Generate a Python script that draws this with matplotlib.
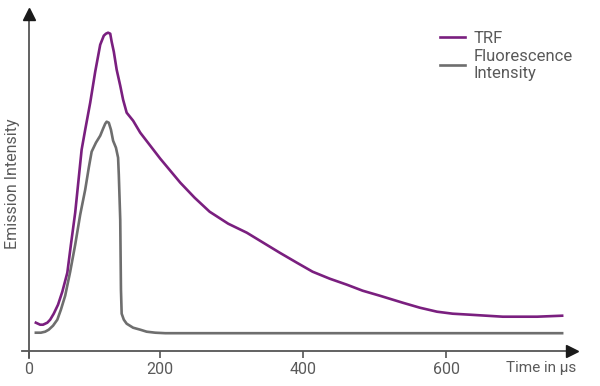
import matplotlib
matplotlib.use("Agg")
import matplotlib.pyplot as plt

# values (time in us, intensity in arbitrary units)
trf_t = [26, 32, 36, 42, 46, 51, 57, 63, 70, 75, 81, 86, 90, 95, 102, 109,
         116, 121, 124, 127, 130, 132, 135, 139, 144, 148, 153, 162, 172,
         186, 200, 214, 228, 248, 269, 295, 321, 344, 367, 391, 413, 437,
         461, 483, 507, 539, 563, 587, 609, 633, 679, 727, 762]
trf_y = [28, 26, 26, 28, 31, 37, 46, 59, 78, 106, 138, 173, 201, 221, 248, 279,
         306, 315, 317, 318, 317, 309, 299, 281, 265, 251, 238, 230, 218,
         205, 192, 180, 168, 153, 139, 127, 118, 108, 98, 88, 79, 72,
         66, 60, 55, 48, 43, 39, 37, 36, 34, 34, 35]

fl_t = [26, 33, 39, 44, 50, 56, 61, 67, 74, 81, 88, 95, 100, 104, 110, 116,
        120, 123, 125, 128, 131, 134, 138, 141, 142, 144, 145, 146, 149, 153,
        162, 172, 181, 193, 207, 762]
fl_y = [18, 18, 19, 21, 25, 31, 41, 55, 79, 106, 136, 161, 183, 199, 208, 215,
        222, 227, 229, 228, 221, 210, 203, 193, 176, 131, 61, 37, 31, 27,
        23, 21, 19, 18, 17.5, 17.5]

tick_pos = [16.4, 200, 400, 600]
tick_lab = ["0", "200", "400", "600"]

purple = "#7a1f7f"
grey = "#6e6e6e"
axis_col = "#555555"
text_col = "#5a5a5a"

plt.rcParams['font.family'] = ['Roboto', 'DejaVu Sans']

fig = plt.figure(figsize=(6, 3.86), dpi=100)
ax = fig.add_axes([29 / 600, 35.3 / 386, 547 / 600, 341.7 / 386])

ax.plot(trf_t, trf_y, color=purple, lw=1.9, label="TRF", solid_joinstyle='round')
ax.plot(fl_t, fl_y, color=grey, lw=1.9, label="Fluorescence\nIntensity", solid_joinstyle='round')

ax.set_xlim(16.4, 781.4)
ax.set_ylim(0, 341.7)

for s in ax.spines.values():
    s.set_visible(False)

# axis lines with arrow heads
ax.plot([-0.013, 0.99], [0, 0], color=axis_col, lw=1.3, transform=ax.transAxes, clip_on=False)
ax.plot([0.993], [0], marker='>', ms=8, color='#1a1a1a', transform=ax.transAxes, clip_on=False)
ax.plot([0, 0], [-0.02, 0.975], color=axis_col, lw=1.3, transform=ax.transAxes, clip_on=False)
ax.plot([0], [0.985], marker='^', ms=8, color='#1a1a1a', transform=ax.transAxes, clip_on=False)

ax.set_xticks(tick_pos)
ax.set_xticklabels(tick_lab)
ax.tick_params(axis='x', direction='out', length=5, width=1.2, color=axis_col,
               labelcolor=text_col, labelsize=11.5, pad=3)
ax.set_yticks([])

ax.text(1.0, -0.051, "Time in µs", transform=ax.transAxes, ha='right', va='center',
        fontsize=11, color=text_col)
fig.text(13 / 600, 1 - 184 / 386, "Emission Intensity", rotation=90, ha='center',
         va='center', fontsize=11.5, color=text_col)

leg = ax.legend(loc='upper left', bbox_to_anchor=(0.74, 0.955), frameon=False,
                fontsize=12, handlelength=1.45, handletextpad=0.55,
                labelspacing=0.15, borderaxespad=0)
for t in leg.get_texts():
    t.set_color(text_col)
    t.set_linespacing(1.2)

fig.savefig("out.png", dpi=100)
